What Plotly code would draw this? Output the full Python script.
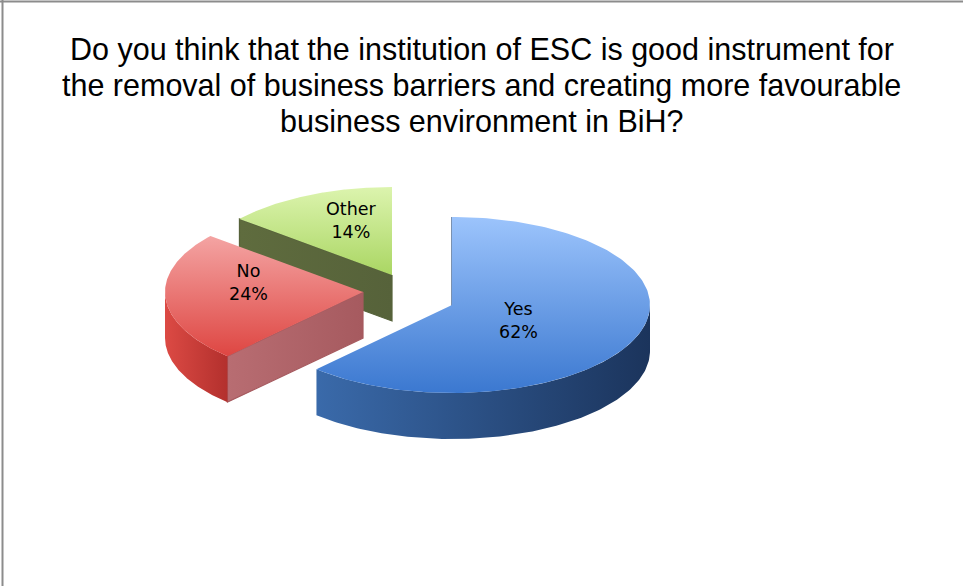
import numpy as np
import plotly.graph_objects as go

# ---- data ----
labels = ["Yes", "No", "Other"]
values = [62, 24, 14]
title_lines = [
    "Do you think that the institution of ESC is good instrument for",
    "the removal of business barriers and creating more favourable",
    "business environment in BiH?",
]

# ---- styling ----
# top faces: (lower colour, upper colour) for the vertical gradient
top_colors = [("#3b78d0", "#9cc4fc"), ("#de4642", "#f4a4a3"), ("#aad663", "#dcf4ae")]
side_colors = [("#3a6aaa", "#1b345c"), ("#dc4a44", "#b3302d"), ("#66743f", "#55622f")]
cut_colors = [("#24497c", "#24497c"), ("#b86d72", "#a65a5f"), ("#5f6c3e", "#56623a")]
explode = [(0, 0), (-89, -13), (-60, -30)]      # pixel offset of each exploded slice
label_frac = [0.36, 0.58, 0.49]                  # radial position of each label
label_lift = [4, -13, -15]                       # vertical nudge of each label
title_line_y = [49, 85, 121]                     # pixel centre of each title line

W, HGT = 963, 586
CX, CY, RX, RY, DEPTH = 452, 305, 198, 88, 46


def rim(cx, cy, t):
    """Point on the elliptical rim; t in degrees, clockwise from 12 o'clock."""
    r = np.radians(t)
    return cx + RX * np.sin(r), cy - RY * np.cos(r)


def poly(xs, ys, c0, c1, orient, lw=0, lc=None):
    return go.Scatter(
        x=list(xs) + [xs[0]], y=list(ys) + [ys[0]],
        mode="lines", fill="toself",
        line=dict(width=lw, color=lc or c1),
        fillgradient=dict(type=orient, colorscale=[[0, c0], [1, c1]]),
        hoverinfo="skip", showlegend=False,
    )


fig = go.Figure()

total = sum(values)
bounds = []
acc = 0.0
for v in values:
    t0 = acc / total * 360
    acc += v
    bounds.append((t0, acc / total * 360))

# paint back slices first so the front ones overlap them
order = sorted(range(len(values)), key=lambda i: explode[i][1])
annotations = []
for i in order:
    t0, t1 = bounds[i]
    cx, cy = CX + explode[i][0], CY + explode[i][1]

    # radial cut faces that face the viewer
    for t, vis in ((t0, np.sin(np.radians(t0)) <= 1e-9), (t1, np.sin(np.radians(t1)) > 1e-9)):
        if vis:
            ex, ey = rim(cx, cy, t)
            fig.add_trace(poly([cx, ex, ex, cx], [cy, ey, ey + DEPTH, cy + DEPTH],
                               cut_colors[i][0], cut_colors[i][1], "horizontal",
                               lw=1.2, lc=cut_colors[i][1]))

    # curved outer wall, front half only
    a, b = max(t0, 90), min(t1, 270)
    if a < b:
        ts = np.linspace(a, b, 120)
        ax, ay = rim(cx, cy, ts)
        xs = np.concatenate([ax, ax[::-1]])
        ys = np.concatenate([ay, ay[::-1] + DEPTH])
        fig.add_trace(poly(xs, ys, side_colors[i][0], side_colors[i][1], "horizontal"))

    # top face
    ts = np.linspace(t0, t1, 200)
    ax, ay = rim(cx, cy, ts)
    fig.add_trace(poly(np.concatenate([[cx], ax]), np.concatenate([[cy], ay]),
                       top_colors[i][0], top_colors[i][1], "vertical"))

    tm = (t0 + t1) / 2
    lx = cx + label_frac[i] * RX * np.sin(np.radians(tm))
    ly = cy - label_frac[i] * RY * np.cos(np.radians(tm)) + label_lift[i]
    annotations.append(dict(
        x=lx, y=ly, xref="x", yref="y", showarrow=False,
        text=f"{labels[i]}<br>{values[i]}%",
        font=dict(family="DejaVu Sans", size=17.5, color="#000000"),
    ))

for line, ypix in zip(title_lines, title_line_y):
    annotations.append(dict(
        x=0.5, y=1 - ypix / HGT, xref="paper", yref="paper", showarrow=False,
        xanchor="center", yanchor="middle", text=line,
        font=dict(family="Liberation Sans, Arial, sans-serif", size=30.5, color="#000000"),
    ))

fig.update_layout(
    width=W, height=HGT, autosize=False,
    margin=dict(l=0, r=0, t=0, b=0),
    paper_bgcolor="#ffffff", plot_bgcolor="#ffffff",
    xaxis=dict(range=[0, W], visible=False, fixedrange=True),
    yaxis=dict(range=[HGT, 0], visible=False, fixedrange=True),
    annotations=annotations,
    shapes=[
        dict(type="line", xref="paper", yref="paper", x0=0, x1=1,
             y0=1 - 1.5 / HGT, y1=1 - 1.5 / HGT, line=dict(color="#8c8c8c", width=2)),
        dict(type="line", xref="paper", yref="paper", x0=2.5 / W, x1=2.5 / W,
             y0=0, y1=1, line=dict(color="#8c8c8c", width=2)),
    ],
)

fig.write_html("out.html")
